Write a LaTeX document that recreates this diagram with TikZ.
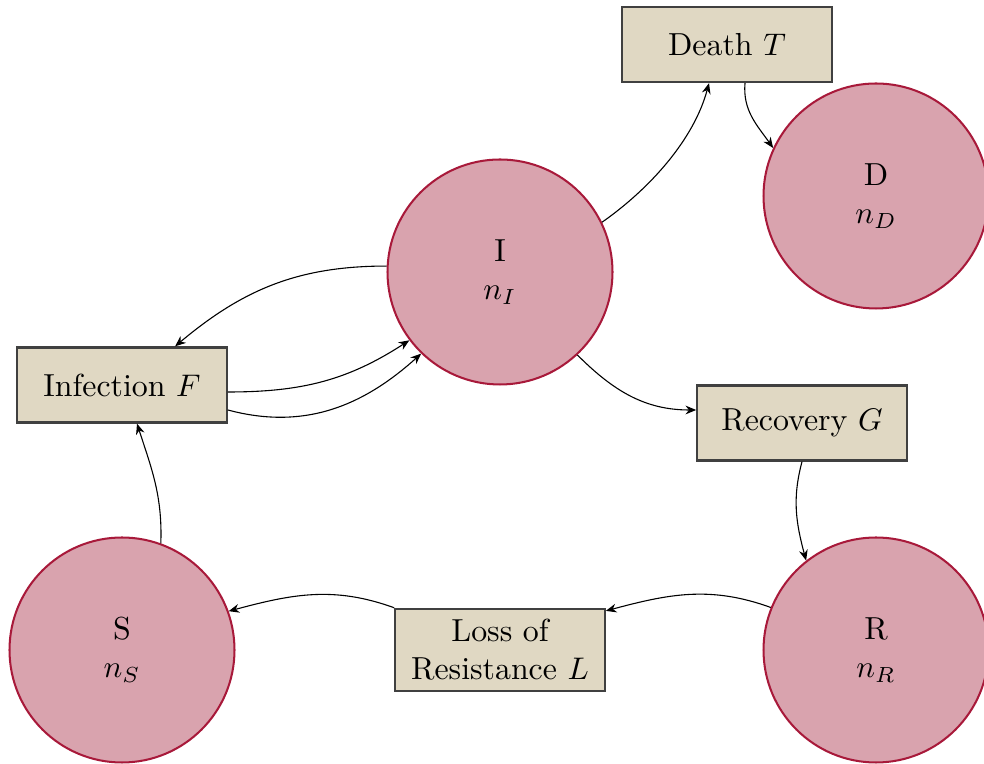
\documentclass[tikz,border=0pt]{standalone}
\usetikzlibrary{arrows.meta,calc}
\definecolor{circfill}{HTML}{D9A3AE}
\definecolor{circdraw}{HTML}{A8193A}
\definecolor{boxfill}{HTML}{E0D8C3}
\definecolor{boxdraw}{HTML}{404040}
\tikzset{
  state/.style={circle,draw=circdraw,fill=circfill,line width=0.65pt,minimum size=72pt,inner sep=0pt,align=center,font=\fontsize{10.2}{12.2}\selectfont},
  rate/.style={rectangle,draw=boxdraw,fill=boxfill,line width=0.75pt,minimum width=67pt,minimum height=24pt,align=center,font=\fontsize{10.2}{12.2}\selectfont},
  flow/.style={-{Stealth[length=3.4pt,width=2.8pt]},line width=0.35pt}
}
\begin{document}
\begin{tikzpicture}[x=0.32pt,y=0.32pt]
\useasboundingbox (0,0) rectangle (984,764);
\node[state] (I) at (500,492) {I\\$n_I$};
\node[state] (D) at (876,568) {D\\$n_D$};
\node[state] (R) at (876,114) {R\\$n_R$};
\node[state] (S) at (122,114) {S\\$n_S$};
\node[rate] (T) at (727,719.5) {Death $T$};
\node[rate] (F) at (122,379) {Infection $F$};
\node[rate] (G) at (802,341) {Recovery $G$};
\node[rate] (L) at (500,114) {Loss of\\Resistance $L$};

\draw[flow] (I.177) to[out=180,in=40] ([xshift=17pt]F.north);
\draw[flow] ([yshift=-2.24pt]F.east) to[out=0,in=213] (I.217);
\draw[flow] ([yshift=-8pt]F.east) to[out=-15,in=222] (I.226);
\draw[flow] (S.70) to[out=88,in=-72] ([xshift=4.8pt]F.south);
\draw[flow] (I.26) to[out=35,in=-105,looseness=0.85] ([xshift=-5.76pt]T.south);
\draw[flow] ([xshift=5.76pt]T.south) to[out=-95,in=125] (D.155);
\draw[flow] (I.313) to[out=-45,in=180] ([yshift=4.16pt]G.west);
\draw[flow] (G.south) to[out=-105,in=105] (R.128);
\draw[flow] (R.158) to[out=160,in=15] ([yshift=-1pt]L.north east);
\draw[flow] (L.north west) to[out=160,in=15] (S.20);
\end{tikzpicture}
\end{document}
